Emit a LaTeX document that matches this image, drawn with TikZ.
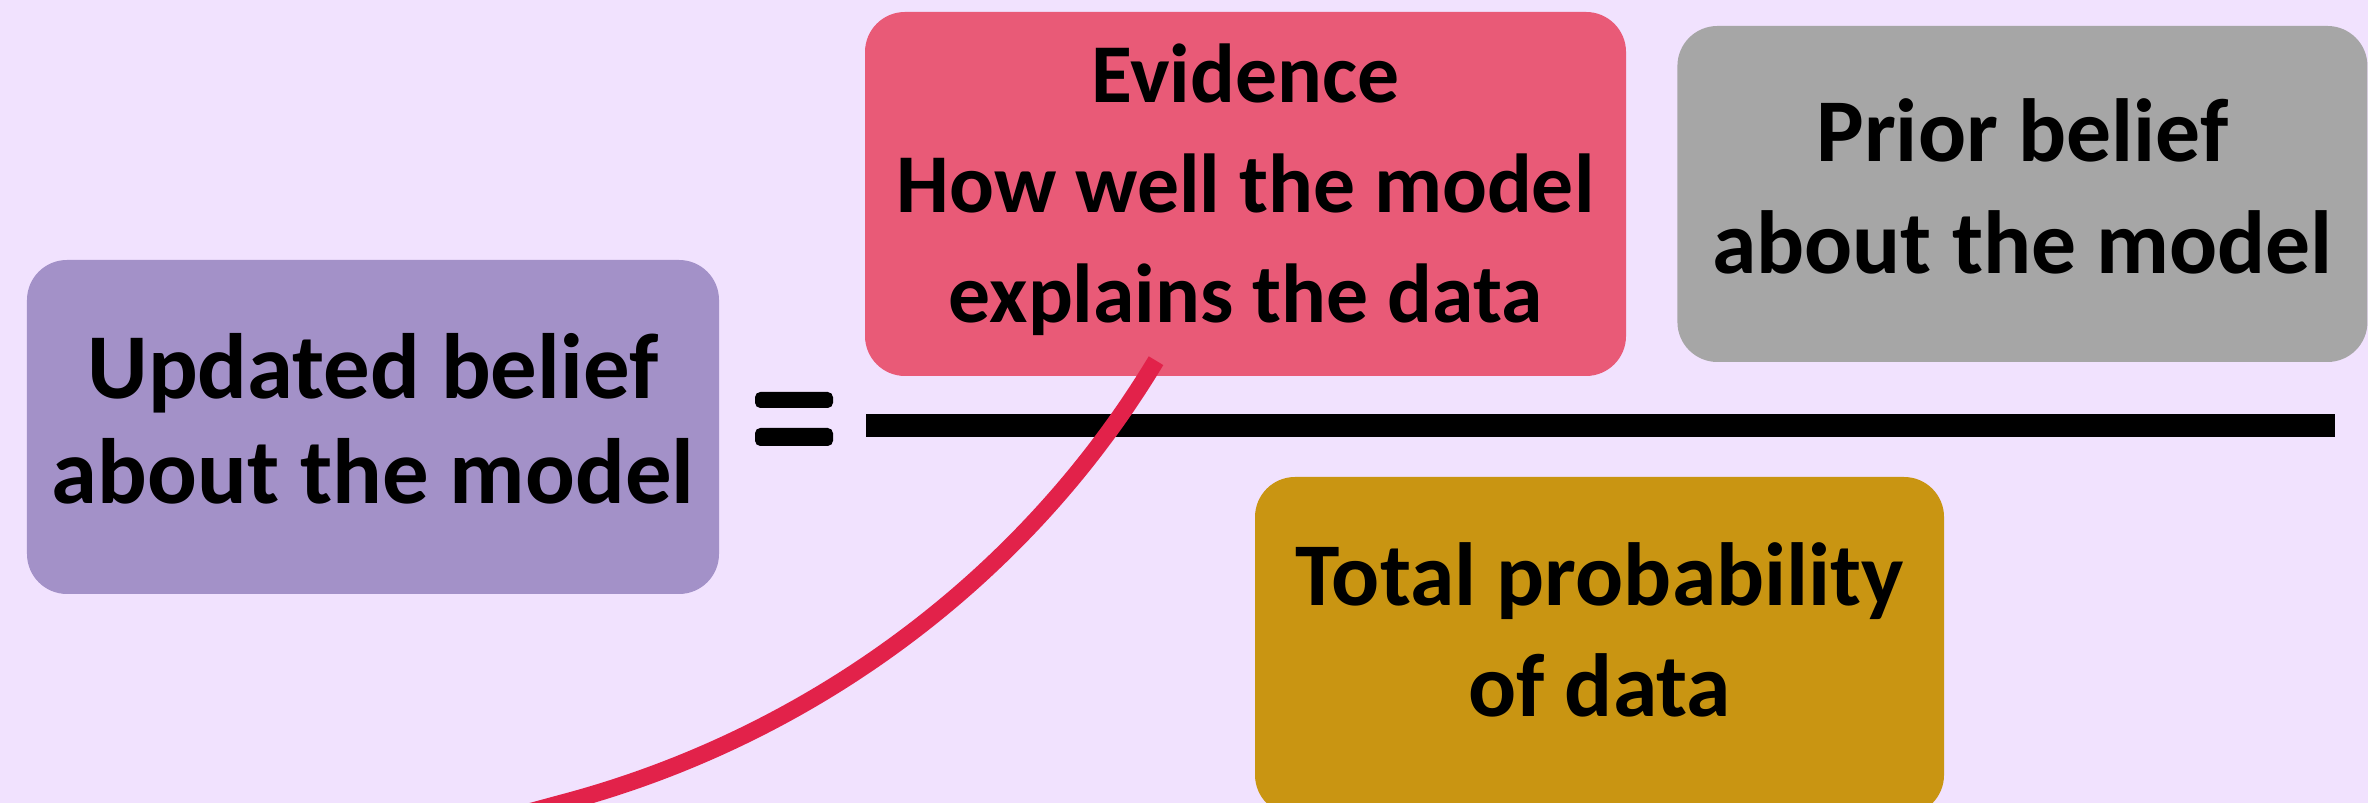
\documentclass[tikz,border=0pt]{standalone}
\usepackage{fontspec}
\setmainfont{Carlito}
\usetikzlibrary{calc,positioning}

\begin{document}
\begin{tikzpicture}
    % Parameters
    \def\W{23.68}    % Canvas width
    \def\H{8.03}     % Canvas height
    \def\barY{3.77}  % Height of the fraction bar

    % Colors
    \definecolor{bgCol}{HTML}{F1E2FE}
    \definecolor{postCol}{HTML}{A391C8}
    \definecolor{evidCol}{HTML}{E95A77}
    \definecolor{priorCol}{HTML}{A6A6A6}
    \definecolor{totalCol}{HTML}{C99512}
    \definecolor{curveCol}{HTML}{E2224A}

    \tikzset{
        termbox/.style 2 args={rounded corners=0.4cm, align=center, inner sep=0pt, text=black,
            font=\bfseries\fontsize{#1}{#2}\selectfont, text depth=0pt}
    }

    % Canvas
    \useasboundingbox (0,0) rectangle (\W,\H);
    \clip (0,0) rectangle (\W,\H);
    \fill[bgCol] (0,0) rectangle (\W,\H);

    % Left-hand side
    \node[termbox={26.4}{29.9}, text height=1.526cm, fill=postCol, minimum width=6.92cm, minimum height=3.34cm] (posterior)
        at (3.73, 3.76) {Updated belief\\about the model};

    % Equals sign
    \fill[rounded corners=1.5pt] (7.55, 3.95) rectangle (8.33, 4.11);
    \fill[rounded corners=1.5pt] (7.55, 3.57) rectangle (8.33, 3.75);

    % Numerator
    \node[termbox={23.8}{31.3}, text height=2.574cm, fill=evidCol, minimum width=7.61cm, minimum height=3.64cm] (evidence)
        at (12.455, 6.09) {Evidence\\How well the model\\explains the data};
    \node[termbox={25.5}{31.8}, text height=1.59cm, fill=priorCol, minimum width=6.90cm, minimum height=3.36cm, right=0.5cm of evidence] (prior)
        {Prior belief\\about the model};

    % Fraction bar
    \draw[line width=0.23cm] (8.66, \barY) -- (23.35, \barY);

    % Denominator
    \node[termbox={25.5}{31.5}, text height=1.414cm, fill=totalCol, minimum width=6.89cm, minimum height=3.38cm] (total)
        at (15.995, 1.57) {Total probability\\of data};

    % Pointer curve out of the evidence box
    \coordinate (tail) at ($(evidence.south)+(-0.895,0.16)$);
    \coordinate (tip) at (5.62, 0);
    \draw[line width=0.17cm, curveCol] (tail) .. controls (10.24, 2.23) and (8.08, 0.65) .. (tip) -- ++(-0.48, -0.13);
\end{tikzpicture}
\end{document}
